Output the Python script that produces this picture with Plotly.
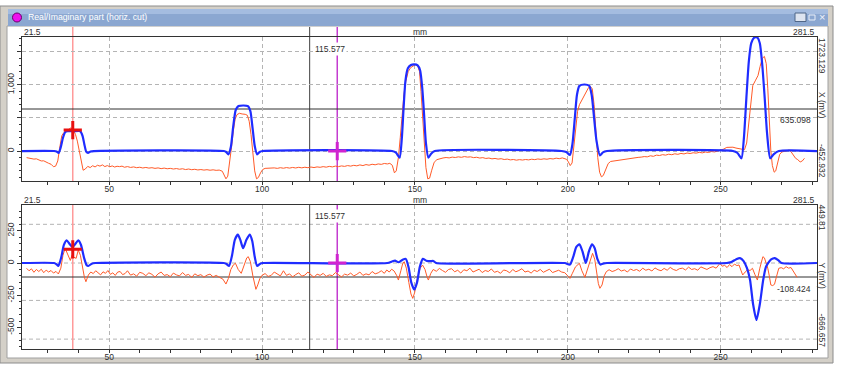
import plotly.graph_objects as go

W, H = 841, 370
FONT = "Liberation Sans, Arial, sans-serif"

# ---------------- data ----------------
x_range = [21.5, 281.5]
top_y_range = [-452.932, 1723.129]
bot_y_range = [-666.657, 449.81]
top_ref_level = 635.098
bot_ref_level = -108.424
cursor_black = 115.577
cursor_pink = 38.1
cursor_magenta = 124.6
top_marker_red = 317
bot_marker_red = 106
top_marker_mag = 0
bot_marker_mag = 0
bot_grid_values = [300, 0, -290, -590]

# X (mV) - blue (model) curve, (mm, mV)
top_blue = [
    (21.5, 0), (32.0, 0), (32.8, -8), (33.5, -30), (34.2, 60), (34.9, 200), (35.6, 285), (36.4, 300),
    (38.5, 300), (40.6, 298), (41.3, 230), (41.9, 100), (42.5, -10), (43.1, -28), (43.9, -8), (45.0, 0),
    (87.5, 0), (88.3, -15), (89.0, -50), (89.8, 60), (90.6, 380), (91.4, 620), (92.3, 680), (94.0, 688),
    (95.4, 680), (96.2, 600), (96.9, 350), (97.6, 80), (98.4, -50), (99.2, -15), (100.2, 0),
    (142.5, 0), (143.8, -25), (145.0, -100), (145.7, 180), (146.3, 650), (146.9, 1060), (147.7, 1250),
    (148.7, 1300), (149.8, 1310), (150.9, 1295), (151.7, 1220), (152.4, 950), (153.0, 550), (153.6, 120),
    (154.4, -100), (155.3, -40), (156.5, 0),
    (198.0, 0), (199.5, -15), (200.7, -60), (201.5, 100), (202.3, 500), (203.0, 850), (203.8, 985),
    (205.5, 1005), (207.0, 985), (207.8, 850), (208.6, 500), (209.4, 150), (210.5, -65), (211.5, -20), (212.8, 0),
    (254.0, 0), (255.5, -30), (256.8, -110), (257.6, 200), (258.4, 800), (259.2, 1350), (260.0, 1630),
    (261.0, 1715), (262.0, 1715), (262.8, 1630), (263.6, 1300), (264.4, 800), (265.2, 250), (266.2, -110),
    (267.3, -50), (269.0, 0), (281.5, 0),
]

# X (mV) - orange (measured) curve
top_orange = [
    (23.0, -100), (23.8, -108), (24.6, -112), (25.4, -122), (26.2, -118), (27.0, -135), (27.8, -150),
    (28.6, -148), (29.4, -170), (30.2, -185), (31.0, -200), (31.8, -237), (32.5, -228),
    (33.2, -150), (33.8, 40), (34.5, 230), (35.2, 280), (36.0, 300), (36.8, 330), (37.5, 350), (38.3, 320),
    (39.0, 250), (39.6, 150), (40.2, 0), (40.8, -150), (41.5, -290), (42.2, -272), (43.0, -232), (43.8, -250),
    (44.6, -222), (45.4, -240), (46.2, -215), (47.0, -228), (47.8, -210), (48.6, -235), (49.4, -220),
    (50.2, -238), (51.0, -225), (51.8, -242), (52.6, -230), (53.4, -236), (54.2, -228), (55.0, -245),
    (56.0, -235), (57.0, -248), (58.0, -240), (59.0, -252), (60.0, -245), (61.0, -256), (62.0, -248),
    (63.0, -258), (64.0, -252), (65.0, -262), (66.0, -255), (67.0, -266), (68.0, -258), (69.0, -268),
    (70.0, -262), (71.0, -272), (72.0, -265), (73.0, -275), (74.0, -268), (75.0, -280), (76.0, -272),
    (77.0, -282), (78.0, -276), (79.0, -286), (80.0, -280), (81.0, -288), (82.0, -282), (83.0, -290),
    (84.0, -284), (85.0, -292), (86.0, -288), (87.0, -305), (87.7, -360), (88.2, -420), (88.8, -380),
    (89.4, -200), (90.0, 50), (90.6, 300), (91.2, 480), (91.8, 550), (92.6, 570), (93.5, 560), (94.5, 555),
    (95.2, 540), (95.8, 450), (96.4, 250), (97.0, -50), (97.6, -300), (98.2, -420), (98.8, -400),
    (99.5, -330), (100.2, -280), (101.0, -262), (102.0, -258), (103.0, -265), (104.0, -255), (105.0, -262),
    (106.0, -252), (107.0, -260), (108.0, -250), (109.0, -258), (110.0, -248), (111.0, -256), (112.0, -246),
    (113.0, -254), (114.0, -245), (115.0, -252), (116.0, -242), (117.0, -250), (118.0, -240), (119.0, -246),
    (120.0, -236), (121.0, -244), (122.0, -232), (123.0, -240), (124.0, -228), (125.0, -236), (126.0, -225),
    (127.0, -232), (128.0, -220), (129.0, -228), (130.0, -216), (131.0, -224), (132.0, -210), (133.0, -220),
    (134.0, -205), (135.0, -214), (136.0, -200), (137.0, -208), (138.0, -195), (139.0, -202), (140.0, -188),
    (141.0, -195), (141.8, -186), (142.6, -215), (143.3, -330), (143.9, -300), (144.6, -100), (145.2, 200),
    (145.8, 550), (146.4, 850), (147.0, 1050), (147.8, 1200), (148.6, 1260), (149.5, 1290), (150.3, 1310),
    (150.9, 1290), (151.5, 1200), (152.0, 900), (152.5, 500), (153.0, 100), (153.6, -250), (154.2, -420),
    (154.8, -410), (155.5, -290), (156.3, -170), (157.2, -130), (158.2, -112), (159.2, -105), (160.2, -98),
    (161.2, -104), (162.2, -92), (163.2, -98), (164.2, -88), (165.2, -95), (166.2, -84), (167.2, -92),
    (168.2, -88), (169.2, -100), (170.2, -94), (171.2, -106), (172.2, -100), (173.2, -112), (174.2, -106),
    (175.2, -118), (176.2, -112), (177.2, -122), (178.2, -116), (179.2, -128), (180.2, -122), (181.2, -134),
    (182.2, -128), (183.2, -138), (184.2, -130), (185.2, -136), (186.2, -128), (187.2, -134), (188.2, -124),
    (189.2, -130), (190.2, -120), (191.2, -126), (192.2, -118), (193.2, -124), (194.2, -114), (195.2, -120),
    (196.2, -108), (197.2, -116), (198.2, -104), (199.0, -112), (199.6, -125), (200.2, -165), (200.8, -220),
    (201.4, -180), (202.0, 50), (202.6, 350), (203.2, 600), (203.8, 700), (204.5, 760), (205.3, 830),
    (206.1, 900), (206.8, 960), (207.4, 975), (208.0, 940), (208.6, 700), (209.2, 300), (209.8, -100),
    (210.4, -320), (211.0, -390), (211.6, -370), (212.4, -270), (213.2, -190), (214.0, -158), (215.0, -150),
    (216.0, -142), (217.0, -138), (218.0, -128), (219.0, -124), (220.0, -115), (221.0, -110), (222.0, -104),
    (223.0, -96), (224.0, -92), (225.0, -84), (226.0, -88), (227.0, -72), (228.0, -80), (229.0, -62),
    (230.0, -68), (231.0, -55), (232.0, -62), (233.0, -48), (234.0, -56), (235.0, -42), (236.0, -50),
    (237.0, -36), (238.0, -44), (239.0, -30), (240.0, -38), (241.0, -26), (242.0, -32), (243.0, -20),
    (244.0, -28), (245.0, -15), (246.0, -22), (247.0, -8), (248.0, -14), (249.0, -2), (250.0, 8),
    (251.0, 30), (252.0, 55), (253.0, 62), (254.0, 58), (255.0, 45), (256.0, 38), (257.0, 32), (257.8, 20),
    (258.5, 120), (259.2, 450), (259.9, 780), (260.5, 990), (261.3, 1060), (262.2, 1140), (262.9, 1280),
    (263.6, 1400), (264.3, 1430), (264.9, 1320), (265.4, 950), (265.9, 450), (266.4, 0), (266.9, -220),
    (267.5, -320), (268.0, -300), (268.6, -160), (269.3, -50), (270.0, -15), (270.8, -5), (271.6, 10),
    (272.4, 15), (273.0, -10), (273.8, -60), (274.5, -110), (275.2, -130), (276.0, -165), (276.7, -150),
    (277.4, -110),
]

# Y (mV) - blue curve
bot_blue = [
    (21.5, 0), (32.0, 0), (32.7, -8), (33.4, -23), (34.3, 40), (35.2, 140), (36.1, 175), (37.0, 150),
    (38.0, 125), (39.0, 150), (39.9, 175), (40.8, 140), (41.8, 40), (42.6, -15), (43.2, -23), (44.3, -5), (45.5, 0),
    (87.5, 0), (88.4, -8), (89.2, -23), (90.2, 60), (91.1, 180), (92.1, 220), (92.9, 180), (93.8, 115),
    (94.9, 180), (96.0, 220), (96.8, 170), (97.6, 50), (98.4, -23), (99.4, -5), (100.3, 0),
    (141.0, 0), (142.5, 12), (143.5, 18), (144.6, 6), (145.9, 24), (147.0, 32), (147.9, -30), (148.8, -150),
    (149.8, -205), (150.7, -150), (151.6, -30), (152.6, 32), (153.7, 18), (155.0, 14), (156.0, 16), (157.0, 0),
    (199.0, 0), (200.7, -12), (201.8, 50), (202.8, 125), (203.8, 145), (204.8, 90), (205.9, 0), (206.9, 90),
    (207.9, 145), (208.8, 115), (209.7, 30), (210.7, -12), (211.8, -3), (212.8, 0),
    (252.0, 0), (253.5, 8), (255.0, 28), (256.3, 38), (257.5, 15), (258.6, -40), (259.6, -132), (260.6, -320),
    (261.7, -442), (262.8, -320), (263.9, -132), (264.8, -30), (265.5, 0), (266.5, 28), (267.7, 38),
    (268.8, 22), (269.9, 0), (281.5, 0),
]

# Y (mV) - orange curve
bot_orange = [
    (23.0, -41), (23.8, -60), (24.6, -45), (25.4, -72), (26.2, -50), (27.0, -66), (27.8, -48), (28.6, -75),
    (29.4, -55), (30.2, -70), (31.0, -58), (31.8, -78), (32.6, -65), (33.4, -85), (34.2, -40), (34.9, 60),
    (35.6, 114), (36.2, 80), (36.8, 40), (37.3, 20), (37.9, 62), (38.5, 45), (39.2, 36), (39.9, 100),
    (40.6, 60), (41.3, -40), (41.9, -110), (42.4, -145), (43.2, -93), (44.0, -70),
    (44.8, -82), (45.6, -60), (46.4, -74), (47.2, -92), (48.0, -68), (48.8, -80), (49.6, -58), (50.4, -88),
    (51.2, -76), (52.0, -96), (52.8, -70), (53.6, -66), (54.4, -90), (55.2, -82), (56.0, -60), (57.0, -94),
    (58.0, -84), (59.0, -102), (60.0, -72), (61.0, -80), (62.0, -98), (63.0, -76), (64.0, -88), (65.0, -110),
    (66.0, -84), (67.0, -70), (68.0, -96), (69.0, -90), (70.0, -106), (71.0, -78), (72.0, -92), (73.0, -100),
    (74.0, -74), (75.0, -96), (76.0, -88), (77.0, -112), (78.0, -84), (79.0, -98), (80.0, -90), (81.0, -110),
    (82.0, -94), (83.0, -86), (84.0, -108), (85.0, -96), (86.0, -110),
    (87.2, -125), (88.2, -163), (89.0, -120), (89.8, -50),
    (90.6, -15), (91.3, -2), (92.2, -50), (93.2, -80), (94.2, -10), (95.0, 40), (95.5, 49), (96.2, 10),
    (97.0, -100), (97.6, -180), (98.0, -204), (98.6, -170), (99.3, -120), (100.0, -95),
    (101.0, -82), (102.0, -104), (103.0, -96), (104.0, -70), (105.0, -88), (106.0, -100), (107.0, -60),
    (108.0, -96), (109.0, -84), (110.0, -108), (111.0, -90), (112.0, -76), (113.0, -102), (114.0, -94),
    (115.0, -70), (116.0, -90), (117.0, -112), (118.0, -86), (119.0, -96), (120.0, -80), (121.0, -104),
    (122.0, -92), (123.0, -98), (124.0, -74), (125.0, -90), (126.0, -108), (127.0, -86), (128.0, -94),
    (129.0, -78), (130.0, -100), (131.0, -88), (132.0, -70), (133.0, -96), (134.0, -84), (135.0, -92),
    (136.0, -66), (137.0, -84), (138.0, -76), (139.0, -60), (140.0, -80),
    (140.8, -54), (141.6, -70), (142.4, -48),
    (143.2, -62), (144.0, -95), (144.6, -132), (145.4, -60), (146.0, -5), (146.5, 10), (147.2, -40),
    (148.0, -150), (148.7, -240), (149.3, -274), (149.9, -230), (150.8, -120), (151.7, -40), (152.5, -16),
    (153.3, -50), (154.0, -110), (154.4, -132), (155.2, -80), (156.0, -50),
    (157.0, -64), (158.0, -42), (159.0, -58), (160.0, -72), (161.0, -50), (162.0, -44), (163.0, -68),
    (164.0, -56), (165.0, -78), (166.0, -52), (167.0, -60), (168.0, -40), (169.0, -70), (170.0, -62),
    (171.0, -48), (172.0, -74), (173.0, -58), (174.0, -66), (175.0, -46), (176.0, -72), (177.0, -64),
    (178.0, -80), (179.0, -54), (180.0, -60), (181.0, -76), (182.0, -50), (183.0, -68), (184.0, -58),
    (185.0, -44), (186.0, -70), (187.0, -62), (188.0, -78), (189.0, -56), (190.0, -66), (191.0, -50),
    (192.0, -72), (193.0, -60), (194.0, -48), (195.0, -74), (196.0, -64), (197.0, -56), (198.0, -70),
    (199.0, -75), (199.8, -95),
    (200.7, -119), (201.5, -80), (202.5, -30), (203.8, -2), (204.6, -60), (205.6, -111), (206.5, -40),
    (207.3, 30), (208.1, 75), (208.8, 30), (209.5, -80), (210.0, -160), (210.5, -196), (211.2, -170),
    (211.9, -100), (212.6, -67),
    (213.5, -52), (214.5, -66), (215.5, -58), (216.5, -44), (217.5, -62), (218.5, -54), (219.5, -70),
    (220.5, -46), (221.5, -58), (222.5, -50), (223.5, -64), (224.5, -40), (225.5, -56), (226.5, -48),
    (227.5, -62), (228.5, -38), (229.5, -52), (230.5, -60), (231.5, -42), (232.5, -56), (233.5, -34),
    (234.5, -50), (235.5, -58), (236.5, -44), (237.5, -40), (238.5, -54), (239.5, -32), (240.5, -50),
    (241.5, -44), (242.5, -56), (243.5, -30), (244.5, -42), (245.5, -50), (246.5, -36), (247.5, -28),
    (248.5, -40),
    (249.3, -12), (249.8, -2), (250.5, -25), (251.3, -18),
    (252.1, -35), (252.9, -12), (253.7, -28), (254.5, -8), (255.3, -20), (256.0, -15), (256.6, -55),
    (257.2, -93), (258.0, -70), (258.8, -52), (259.6, -58), (260.4, -41), (261.2, -90), (262.0, -132),
    (262.8, -40), (263.4, 30), (263.8, 49), (264.3, 40), (264.8, 10), (265.4, -40), (265.9, -100),
    (266.4, -170), (267.0, -175), (267.6, -165), (268.2, -110), (269.0, -41), (269.8, -36), (270.6, -45),
    (271.4, -28), (272.2, -40), (273.0, -35), (273.6, -58), (274.3, -80), (275.0, -111),
]

title_text = "Real/Imaginary part (horiz. cut)"
x_unit = "mm"
top_y_title = "X (mV)"
bot_y_title = "Y (mV)"

# ---------------- helpers (pixel -> paper) ----------------
def px(x):
    return x / W

def py(y):
    return 1 - y / H

def xs(pairs):
    return [p[0] for p in pairs]

def ys(pairs):
    return [p[1] for p in pairs]

TXT = "#303030"
BLUE = "#1f2cff"
ORANGE = "#ff5a28"
GRID = "#b4b4b4"
AXC = "#333333"

fig = go.Figure()

# traces: orange first, blue on top
for pairs_o, pairs_b, xa, ya in [(top_orange, top_blue, "x", "y"), (bot_orange, bot_blue, "x2", "y2")]:
    fig.add_trace(go.Scatter(x=xs(pairs_o), y=ys(pairs_o), mode="lines", xaxis=xa, yaxis=ya,
                             line=dict(color=ORANGE, width=1), hoverinfo="skip", showlegend=False))
    fig.add_trace(go.Scatter(x=xs(pairs_b), y=ys(pairs_b), mode="lines", xaxis=xa, yaxis=ya,
                             line=dict(color=BLUE, width=2.2, shape="spline", smoothing=0.6),
                             hoverinfo="skip", showlegend=False))

# cursor cross markers
for xa, ya, yr, ym in [("x", "y", top_marker_red, top_marker_mag), ("x2", "y2", bot_marker_red, bot_marker_mag)]:
    fig.add_trace(go.Scatter(x=[cursor_pink], y=[yr], mode="markers", xaxis=xa, yaxis=ya,
                             marker=dict(symbol="cross-thin", size=13, color="#e81010",
                                         line=dict(width=3, color="#e81010")),
                             hoverinfo="skip", showlegend=False))
    fig.add_trace(go.Scatter(x=[cursor_magenta], y=[ym], mode="markers", xaxis=xa, yaxis=ya,
                             marker=dict(symbol="cross-thin", size=13, color="#d024d0",
                                         line=dict(width=3, color="#d024d0")),
                             hoverinfo="skip", showlegend=False))

shapes = []
# window chrome
shapes.append(dict(type="rect", xref="paper", yref="paper", x0=0, x1=px(833), y0=py(363), y1=py(6),
                   fillcolor="#d4d0c8", line=dict(color="#8c8c8c", width=1), layer="below"))
shapes.append(dict(type="rect", xref="paper", yref="paper", x0=px(7), x1=px(828), y0=py(358), y1=py(26),
                   fillcolor="white", line=dict(color="#a0a0a0", width=1), layer="below"))
shapes.append(dict(type="rect", xref="paper", yref="paper", x0=px(8), x1=px(828), y0=py(26), y1=py(9),
                   fillcolor="#8ba7d1", line=dict(width=0), layer="below"))
shapes.append(dict(type="rect", xref="paper", yref="paper", x0=px(8), x1=px(828), y0=py(14), y1=py(9),
                   fillcolor="#a4bce0", line=dict(width=0), layer="below"))
shapes.append(dict(type="circle", xref="paper", yref="paper", x0=px(12.5), x1=px(21.5), y0=py(22), y1=py(13),
                   fillcolor="#ee10ee", line=dict(color="#6a006a", width=1), layer="below"))
shapes.append(dict(type="rect", xref="paper", yref="paper", x0=px(795), x1=px(806), y0=py(21.5), y1=py(13),
                   fillcolor="#dde4f0", line=dict(color="#4f6688", width=1), layer="below"))
shapes.append(dict(type="rect", xref="paper", yref="paper", x0=px(809), x1=px(815), y0=py(20), y1=py(15),
                   fillcolor="rgba(0,0,0,0)", line=dict(color="#e8eef8", width=1), layer="below"))

# bottom plot custom grid lines
for gv in bot_grid_values:
    shapes.append(dict(type="line", xref="x2 domain", yref="y2", x0=0, x1=1, y0=gv, y1=gv,
                       line=dict(color=GRID, width=1, dash="4px,3px"), layer="below"))

# vertical cursor lines
for xa, ytop, ybot in [("x", 27, 181), ("x2", 205, 349)]:
    shapes.append(dict(type="line", xref=xa, yref="paper", x0=cursor_pink, x1=cursor_pink,
                       y0=py(ybot), y1=py(ytop), line=dict(color="#ff9a9a", width=1.5), layer="below"))
    shapes.append(dict(type="line", xref=xa, yref="paper", x0=cursor_black, x1=cursor_black,
                       y0=py(ybot), y1=py(ytop), line=dict(color="#404040", width=1), layer="below"))
    shapes.append(dict(type="line", xref=xa, yref="paper", x0=cursor_magenta, x1=cursor_magenta,
                       y0=py(ybot), y1=py(ytop), line=dict(color="#c43cd0", width=1.5), layer="below"))

# horizontal reference lines
shapes.append(dict(type="line", xref="x domain", yref="y", x0=0, x1=1, y0=top_ref_level, y1=top_ref_level,
                   line=dict(color="#303030", width=1), layer="below"))
shapes.append(dict(type="line", xref="x2 domain", yref="y2", x0=0, x1=1, y0=bot_ref_level, y1=bot_ref_level,
                   line=dict(color="#303030", width=1), layer="below"))

ann = []
def text(x, y, s, xanchor="center", size=8.5, color=TXT, angle=0, bg=None):
    d = dict(x=px(x), y=py(y), xref="paper", yref="paper", text=s, showarrow=False,
             xanchor=xanchor, yanchor="middle", textangle=angle,
             font=dict(family=FONT, size=size, color=color))
    if bg:
        d["bgcolor"] = bg
        d["borderpad"] = 1
    ann.append(d)

text(26, 17.5, title_text, xanchor="left", size=8.7, color="white")
text(821.5, 17, "×", size=11, color="#eef2fa")

for yrow in (32, 200):
    text(22, yrow, f"{x_range[0]}", xanchor="left")
    text(419.5, yrow, x_unit)
    text(817, yrow, f"{x_range[1]}", xanchor="right")

text(313, 49, f"{cursor_black}", xanchor="left", bg="white")
text(313, 216, f"{cursor_black}", xanchor="left", bg="white")
text(813, 120, f"{top_ref_level}", xanchor="right")
text(813, 289, f"{bot_ref_level}", xanchor="right")

text(822, 56, f"{top_y_range[1]}", angle=90)
text(822, 105, top_y_title, angle=90)
text(822, 161, f"{top_y_range[0]}", angle=90)
text(822, 217.5, f"{bot_y_range[1]}", angle=90)
text(822, 275.5, bot_y_title, angle=90)
text(822, 330.5, f"{bot_y_range[0]}", angle=90)

tickfont = dict(family=FONT, size=8.5, color=TXT)

def xaxis_cfg(anchor):
    return dict(domain=[px(22), px(817)], range=x_range, anchor=anchor,
                showline=True, linecolor=AXC, linewidth=1, mirror=True,
                ticks="outside", ticklen=3, tickcolor=AXC, tick0=0, dtick=50,
                ticklabelstandoff=-3,
                minor=dict(dtick=10, ticks="outside", ticklen=3, tickcolor=AXC, showgrid=False),
                showgrid=True, gridcolor=GRID, gridwidth=1, griddash="4px,3px",
                zeroline=False, tickfont=tickfont, fixedrange=True)

fig.update_layout(
    width=W, height=H, autosize=False,
    margin=dict(l=0, r=0, t=0, b=0, pad=0),
    paper_bgcolor="white", plot_bgcolor="rgba(0,0,0,0)",
    font=dict(family=FONT, size=8.5, color=TXT),
    showlegend=False,
    xaxis=xaxis_cfg("y"),
    xaxis2=xaxis_cfg("y2"),
    yaxis=dict(domain=[py(181), py(37)], range=top_y_range, anchor="x",
               showline=True, linecolor=AXC, linewidth=1, mirror=True,
               ticks="outside", ticklen=4, tickcolor=AXC, tick0=0, dtick=500,
               minor=dict(dtick=100, ticks="outside", ticklen=2, tickcolor=AXC, showgrid=False),
               tickformat=",", labelalias={"500": "", "1,500": ""}, tickangle=-90,
               showgrid=True, gridcolor=GRID, gridwidth=1, griddash="4px,3px",
               zeroline=False, tickfont=tickfont, fixedrange=True),
    yaxis2=dict(domain=[py(349), py(205)], range=bot_y_range, anchor="x2",
                showline=True, linecolor=AXC, linewidth=1, mirror=True,
                ticks="outside", ticklen=4, tickcolor=AXC, tick0=0, dtick=250,
                minor=dict(dtick=50, ticks="outside", ticklen=2, tickcolor=AXC, showgrid=False),
                labelalias={"\u2212250": "-250", "\u2212500": "-500"}, tickangle=-90,
                showgrid=False, zeroline=False, tickfont=tickfont, fixedrange=True),
    shapes=shapes,
    annotations=ann,
)

fig.write_html("out.html", config={"displayModeBar": False},
               post_script="document.body.style.margin='0';document.body.style.overflow='hidden';")
